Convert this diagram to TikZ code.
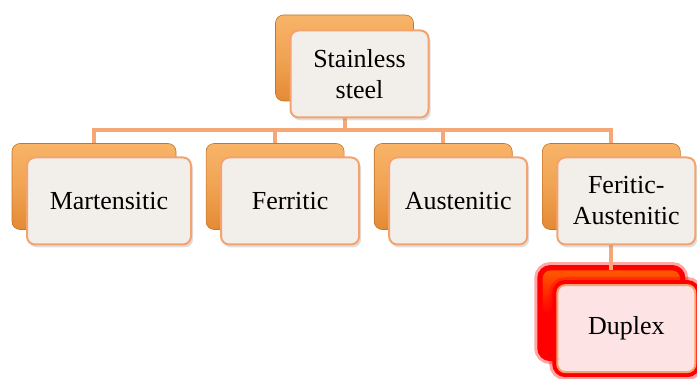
\documentclass[tikz,border=0pt]{standalone}
\usepackage{fontspec}
\setmainfont{Liberation Serif}
\usetikzlibrary{positioning,shadows,calc}
\definecolor{backtop}{HTML}{F8B468}
\definecolor{backbot}{HTML}{E48A34}
\definecolor{frontfill}{HTML}{F2EEEA}
\definecolor{frontline}{HTML}{F4A36F}
\definecolor{linkcol}{HTML}{F6A777}
\definecolor{dupfill}{HTML}{FDE3E4}

\begin{document}
\begin{tikzpicture}[x=0.5pt, y=-0.5pt, node distance=14.75pt,
  back/.style={rectangle, rounded corners=4pt, minimum width=69pt, minimum height=43pt,
    top color=backtop, bottom color=backbot, middle color=backtop!60!backbot,
    draw=backbot!85!black, line width=0.3pt},
  front/.style={rectangle, rounded corners=4pt, minimum width=69pt, minimum height=43.5pt,
    inner xsep=4pt, fill=frontfill, draw=frontline, line width=1pt, align=center,
    font=\fontsize{13}{15.5}\selectfont,
    drop shadow={shadow xshift=1pt, shadow yshift=-1.5pt, opacity=0.25}},
  glow/.style={preaction={draw=red, line width=8pt, opacity=0.35},
    preaction={draw=red, line width=5pt}},
  link/.style={draw=linkcol, line width=2pt}]
  \useasboundingbox (0,0) rectangle (697,379);

  % back boxes
  \node[back] (top-b) at (344.5,58) {};
  \node[back, minimum width=82pt] (mart-b) at (94,186.5) {};
  \node[back, right=of mart-b] (ferr-b) {};
  \node[back, right=of ferr-b] (aust-b) {};
  \node[back, right=of aust-b] (fer-b) {};
  \node[back, glow, top color=orange!70!red, bottom color=red, middle color=red,
    draw=red, below=20pt of fer-b] (dup-b) {};

  % connectors
  \coordinate (bus) at (0,130);
  \draw[link] (top-b.south) -- (top-b.south |- bus);
  \draw[link] (mart-b.north) |- (bus -| fer-b.north) -- (fer-b.north);
  \draw[link] (ferr-b.north) -- (ferr-b.north |- bus);
  \draw[link] (aust-b.north) -- (aust-b.north |- bus);
  \draw[link] (fer-b.south) -- (dup-b.north);

  % front boxes
  \node[front] (top) at ($(top-b)+(15,16)$) {Stainless\\steel};
  \node[front, minimum width=82pt] (mart) at ($(mart-b)+(15,14.5)$) {Martensitic};
  \node[front] (ferr) at ($(ferr-b)+(15,14.5)$) {Ferritic};
  \node[front] (aust) at ($(aust-b)+(15,14.5)$) {Austenitic};
  \node[front] (fer) at ($(fer-b)+(15,14.5)$) {Feritic-\\Austenitic};
  \node[front, glow, fill=dupfill] (dup) at ($(dup-b)+(15,15.5)$) {Duplex};
\end{tikzpicture}
\end{document}
